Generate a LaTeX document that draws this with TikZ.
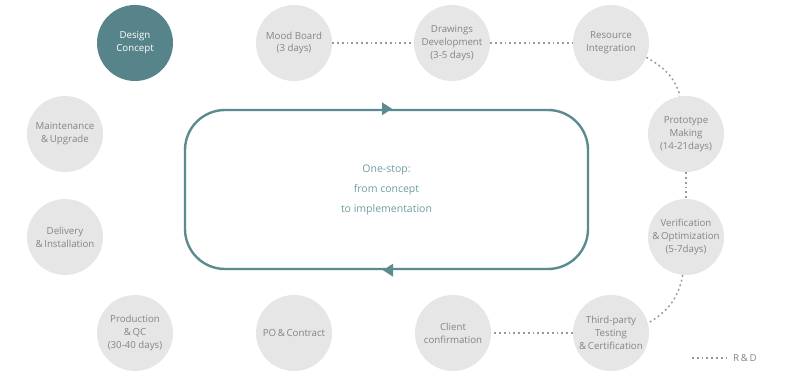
\documentclass[tikz,border=0pt]{standalone}
\usepackage{fontspec}
\setmainfont{Open Sans}
\usetikzlibrary{arrows.meta}
\definecolor{tealfill}{HTML}{56848A}
\definecolor{tealline}{HTML}{5B8B90}
\definecolor{tealtext}{HTML}{6E9CA0}
\definecolor{circgray}{HTML}{E6E6E6}
\definecolor{txtgray}{HTML}{858585}
\definecolor{dotgray}{HTML}{999999}
\begin{document}
\begin{tikzpicture}[x=1pt,y=1pt,
  stage/.style={circle, fill=circgray, minimum size=76pt, inner sep=0pt, align=center,
    font=\fontsize{9.7}{12.8}\selectfont, text=txtgray},
  rd/.style={draw=dotgray, line width=1.5pt, dash pattern=on 1.8pt off 3pt},
  tip/.style={fill=tealline}]
\useasboundingbox (0,0) rectangle (798,370);
% stages
\node[stage, fill=tealfill, text=white] (design) at (135,327) {Design\\Concept};
\node[stage] (mood) at (294,327) {Mood Board\\(3 days)};
\node[stage] (drawdev) at (452,327) {Drawings\\Development\\(3-5 days)};
\node[stage] (res) at (611,327) {Resource\\Integration};
\node[stage] (proto) at (686,236) {Prototype\\Making\\(14-21days)};
\node[stage] (verif) at (686,133) {Verification\\\&\,Optimization\\(5-7days)};
\node[stage] (third) at (611,37) {Third-party\\Testing\\\&\,Certification};
\node[stage] (client) at (453,37) {Client\\confirmation};
\node[stage] (po) at (294,37) {PO\,\&\,Contract};
\node[stage] (prod) at (135,37) {Production\\\&\,QC\\(30-40 days)};
\node[stage] (deliv) at (65,133) {Delivery\\\&\,Installation};
\node[stage] (maint) at (65,236) {Maintenance\\\&\,Upgrade};
% central loop
\node[draw=tealline, line width=2.4pt, rounded corners=40pt, minimum width=403pt,
  minimum height=159pt, align=center, text=tealtext,
  font=\fontsize{10.5}{20}\selectfont] (box) at (386.5,180.5)
  {One-stop:\\from concept\\to implementation};
\fill[tip] ([xshift=5.5pt]box.north) -- ([xshift=-4.5pt,yshift=6.5pt]box.north)
  -- ([xshift=-4.5pt,yshift=-6.5pt]box.north) -- cycle;
\fill[tip] ([xshift=-3.5pt]box.south) -- ([xshift=6.5pt,yshift=6.5pt]box.south)
  -- ([xshift=6.5pt,yshift=-6.5pt]box.south) -- cycle;
% R&D connectors
\draw[rd] (mood) -- (drawdev);
\draw[rd] (drawdev) -- (res);
\draw[rd] (res.-22) to[out=-30, in=105] (proto.99);
\draw[rd] (proto) -- (verif);
\draw[rd] (verif.-95) to[out=-100, in=30] (third.15);
\draw[rd] (third) -- (client);
% legend
\coordinate (lga) at (692,12);
\coordinate (lgb) at (727,12);
\draw[rd] (lga) -- (lgb);
\node[anchor=west, inner sep=0pt, text=txtgray, font=\fontsize{9.7}{11}\selectfont] (lgt) at (733,12) {R\,\&\,D};
\end{tikzpicture}
\end{document}
